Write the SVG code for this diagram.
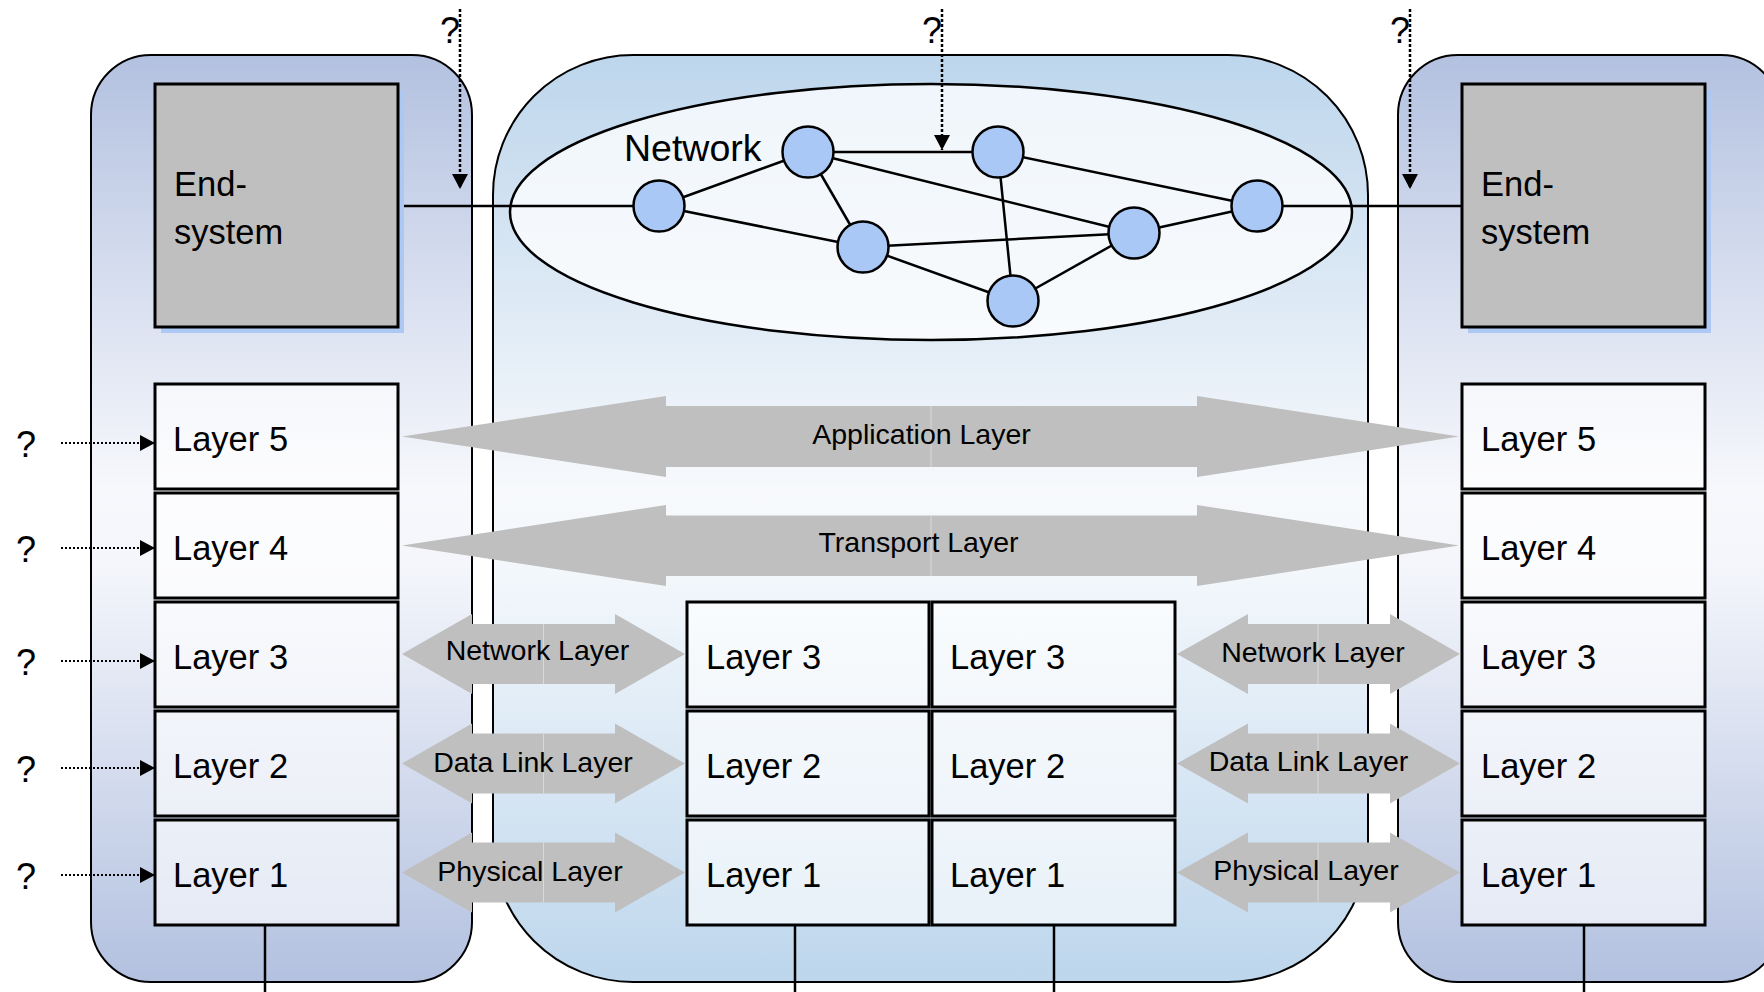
<svg xmlns="http://www.w3.org/2000/svg" width="1764" height="992" viewBox="0 0 1764 992">
<defs>
  <linearGradient id="gSide" x1="0" y1="0" x2="0" y2="1">
    <stop offset="0" stop-color="#b3c1e0"/>
    <stop offset="0.47" stop-color="#f7f8fc"/>
    <stop offset="0.55" stop-color="#f4f6fb"/>
    <stop offset="1" stop-color="#b3c1e0"/>
  </linearGradient>
  <linearGradient id="gCenter" x1="0" y1="0" x2="0" y2="1">
    <stop offset="0" stop-color="#bdd6ec"/>
    <stop offset="0.47" stop-color="#f7f9fc"/>
    <stop offset="0.55" stop-color="#f4f8fc"/>
    <stop offset="1" stop-color="#bdd6ec"/>
  </linearGradient>
  <marker id="ah" markerUnits="userSpaceOnUse" markerWidth="17" markerHeight="17" refX="15" refY="8" orient="auto">
    <path d="M0,0 L15,8 L0,16 Z" fill="#000"/>
  </marker>
</defs>
<style>
  .panel { stroke:#000; stroke-width:2; }
  .es { fill:#bfbfbf; stroke:#000; stroke-width:3; }
  .shadow { fill:#adc9f3; }
  .box { fill:#ffffff; fill-opacity:0.62; stroke:#000; stroke-width:3; }
  .t { font-family:'Liberation Sans', Arial, sans-serif; fill:#000; }
  .lt { font-size:34.5px; }
  .at { font-size:28.5px; text-anchor:middle; }
  .q { font-size:36px; }
  .garrow { fill:#bfbfbf; }
  .seam { stroke:#d9d9d9; stroke-width:1; }
  .edge { stroke:#000; stroke-width:2.5; fill:none; }
  .node { fill:#a9c8f5; stroke:#000; stroke-width:2.5; }
  .dot { stroke:#000; stroke-width:2; stroke-dasharray:2 2; fill:none; }
  .vdot { stroke:#000; stroke-width:2.5; stroke-dasharray:3 2; fill:none; }
  .wire { stroke:#000; stroke-width:2.5; fill:none; }
</style>

<!-- Panels -->
<g id="panel-left"><rect class="panel" x="91" y="55" width="381" height="927" rx="60" fill="url(#gSide)"/></g>
<g id="panel-center"><rect class="panel" x="493" y="55" width="875" height="927" rx="140" fill="url(#gCenter)"/></g>
<g id="panel-right"><rect class="panel" x="1398" y="55" width="383" height="927" rx="60" fill="url(#gSide)"/></g>

<!-- Network ellipse -->
<g id="network-cloud">
  <ellipse cx="931" cy="212" rx="421" ry="128" fill="#ffffff" fill-opacity="0.75" stroke="#000" stroke-width="2.5"/>
  <text class="t" x="624" y="161" font-size="37.5">Network</text>
</g>

<!-- Connectors -->
<g id="connectors">
  <line class="wire" x1="398" y1="206" x2="659" y2="206"/>
  <line class="wire" x1="1257" y1="206" x2="1462" y2="206"/>
  <line class="edge" x1="659" y1="206" x2="808" y2="152"/>
  <line class="edge" x1="659" y1="206" x2="863" y2="247"/>
  <line class="edge" x1="808" y1="152" x2="998" y2="152"/>
  <line class="edge" x1="808" y1="152" x2="863" y2="247"/>
  <line class="edge" x1="808" y1="152" x2="1134" y2="233"/>
  <line class="edge" x1="998" y1="152" x2="1257" y2="206"/>
  <line class="edge" x1="998" y1="152" x2="1013" y2="301"/>
  <line class="edge" x1="863" y1="247" x2="1134" y2="233"/>
  <line class="edge" x1="863" y1="247" x2="1013" y2="301"/>
  <line class="edge" x1="1013" y1="301" x2="1134" y2="233"/>
  <line class="edge" x1="1134" y1="233" x2="1257" y2="206"/>
  <!-- top dotted arrows -->
  <line class="vdot" x1="460" y1="9" x2="460" y2="189" marker-end="url(#ah)"/>
  <line class="vdot" x1="942" y1="9" x2="942" y2="150" marker-end="url(#ah)"/>
  <line class="vdot" x1="1410" y1="9" x2="1410" y2="189" marker-end="url(#ah)"/>
  <!-- left dotted arrows -->
  <line class="dot" x1="61" y1="443" x2="155" y2="443" marker-end="url(#ah)"/>
  <line class="dot" x1="61" y1="548" x2="155" y2="548" marker-end="url(#ah)"/>
  <line class="dot" x1="61" y1="661" x2="155" y2="661" marker-end="url(#ah)"/>
  <line class="dot" x1="61" y1="768" x2="155" y2="768" marker-end="url(#ah)"/>
  <line class="dot" x1="61" y1="875" x2="155" y2="875" marker-end="url(#ah)"/>
  <!-- bottom wires -->
  <line class="wire" x1="265" y1="925" x2="265" y2="992"/>
  <line class="wire" x1="795" y1="925" x2="795" y2="992"/>
  <line class="wire" x1="1054" y1="925" x2="1054" y2="992"/>
  <line class="wire" x1="1584" y1="925" x2="1584" y2="992"/>
</g>

<!-- Network nodes -->
<g id="node-n1"><circle class="node" cx="659" cy="206" r="25.5"/></g>
<g id="node-n2"><circle class="node" cx="808" cy="152" r="25.5"/></g>
<g id="node-n3"><circle class="node" cx="998" cy="152" r="25.5"/></g>
<g id="node-n4"><circle class="node" cx="863" cy="247" r="25.5"/></g>
<g id="node-n5"><circle class="node" cx="1134" cy="233" r="25.5"/></g>
<g id="node-n6"><circle class="node" cx="1257" cy="206" r="25.5"/></g>
<g id="node-n7"><circle class="node" cx="1013" cy="301" r="25.5"/></g>

<!-- Question marks -->
<g id="questions">
  <text class="t q" x="440" y="43">?</text>
  <text class="t q" x="922" y="43">?</text>
  <text class="t q" x="1390" y="43">?</text>
  <text class="t q" x="16" y="457">?</text>
  <text class="t q" x="16" y="562">?</text>
  <text class="t q" x="16" y="675">?</text>
  <text class="t q" x="16" y="782">?</text>
  <text class="t q" x="16" y="889">?</text>
</g>

<!-- End systems -->
<g id="endsystem-left">
  <rect class="shadow" x="161" y="90" width="243" height="243"/>
  <rect class="es" x="155" y="84" width="243" height="243"/>
  <text class="t lt" x="174" y="196">End-</text>
  <text class="t lt" x="174" y="244">system</text>
</g>
<g id="endsystem-right">
  <rect class="shadow" x="1468" y="90" width="243" height="243"/>
  <rect class="es" x="1462" y="84" width="243" height="243"/>
  <text class="t lt" x="1481" y="196">End-</text>
  <text class="t lt" x="1481" y="244">system</text>
</g>

<!-- Left stack -->
<g id="left-layer5"><rect class="box" x="155" y="384" width="243" height="105"/><text class="t lt" x="173" y="451">Layer 5</text></g>
<g id="left-layer4"><rect class="box" x="155" y="493" width="243" height="105"/><text class="t lt" x="173" y="560">Layer 4</text></g>
<g id="left-layer3"><rect class="box" x="155" y="602" width="243" height="105"/><text class="t lt" x="173" y="669">Layer 3</text></g>
<g id="left-layer2"><rect class="box" x="155" y="711" width="243" height="105"/><text class="t lt" x="173" y="778">Layer 2</text></g>
<g id="left-layer1"><rect class="box" x="155" y="820" width="243" height="105"/><text class="t lt" x="173" y="887">Layer 1</text></g>

<!-- Center stacks -->
<g id="mid-a-layer3"><rect class="box" x="687" y="602" width="242" height="105"/><text class="t lt" x="706" y="669">Layer 3</text></g>
<g id="mid-a-layer2"><rect class="box" x="687" y="711" width="242" height="105"/><text class="t lt" x="706" y="778">Layer 2</text></g>
<g id="mid-a-layer1"><rect class="box" x="687" y="820" width="242" height="105"/><text class="t lt" x="706" y="887">Layer 1</text></g>
<g id="mid-b-layer3"><rect class="box" x="932" y="602" width="243" height="105"/><text class="t lt" x="950" y="669">Layer 3</text></g>
<g id="mid-b-layer2"><rect class="box" x="932" y="711" width="243" height="105"/><text class="t lt" x="950" y="778">Layer 2</text></g>
<g id="mid-b-layer1"><rect class="box" x="932" y="820" width="243" height="105"/><text class="t lt" x="950" y="887">Layer 1</text></g>

<!-- Right stack -->
<g id="right-layer5"><rect class="box" x="1462" y="384" width="243" height="105"/><text class="t lt" x="1481" y="451">Layer 5</text></g>
<g id="right-layer4"><rect class="box" x="1462" y="493" width="243" height="105"/><text class="t lt" x="1481" y="560">Layer 4</text></g>
<g id="right-layer3"><rect class="box" x="1462" y="602" width="243" height="105"/><text class="t lt" x="1481" y="669">Layer 3</text></g>
<g id="right-layer2"><rect class="box" x="1462" y="711" width="243" height="105"/><text class="t lt" x="1481" y="778">Layer 2</text></g>
<g id="right-layer1"><rect class="box" x="1462" y="820" width="243" height="105"/><text class="t lt" x="1481" y="887">Layer 1</text></g>

<!-- Protocol arrows -->
<g id="arrow-application">
  <polygon class="garrow" points="402,436.5 666,396 666,406 1197,406 1197,396 1459,436.5 1197,477 1197,467 666,467 666,477"/>
  <line class="seam" x1="931" y1="406" x2="931" y2="467"/>
  <text class="t at" x="921.5" y="444">Application Layer</text>
</g>
<g id="arrow-transport">
  <polygon class="garrow" points="402,545.5 666,505 666,515.5 1197,515.5 1197,505 1459,545.5 1197,586 1197,576 666,576 666,586"/>
  <line class="seam" x1="931" y1="515.5" x2="931" y2="576"/>
  <text class="t at" x="918.5" y="552">Transport Layer</text>
</g>
<g id="arrow-network-left">
  <polygon class="garrow" points="402,654 472,614 472,624 615,624 615,614 685,654 615,694 615,684 472,684 472,694"/>
  <line class="seam" x1="543.5" y1="624" x2="543.5" y2="684"/>
  <text class="t at" x="537.5" y="660">Network Layer</text>
</g>
<g id="arrow-datalink-left">
  <polygon class="garrow" points="402,763.5 472,723.5 472,733.5 615,733.5 615,723.5 685,763.5 615,803.5 615,793.5 472,793.5 472,803.5"/>
  <line class="seam" x1="543.5" y1="733.5" x2="543.5" y2="793.5"/>
  <text class="t at" x="533" y="771.5">Data Link Layer</text>
</g>
<g id="arrow-physical-left">
  <polygon class="garrow" points="402,872.5 472,832.5 472,842.5 615,842.5 615,832.5 685,872.5 615,912.5 615,902.5 472,902.5 472,912.5"/>
  <line class="seam" x1="543.5" y1="842.5" x2="543.5" y2="902.5"/>
  <text class="t at" x="530" y="881">Physical Layer</text>
</g>
<g id="arrow-network-right">
  <polygon class="garrow" points="1177,654 1248,614 1248,624 1390,624 1390,614 1460,654 1390,694 1390,684 1248,684 1248,694"/>
  <line class="seam" x1="1318" y1="624" x2="1318" y2="684"/>
  <text class="t at" x="1313" y="662">Network Layer</text>
</g>
<g id="arrow-datalink-right">
  <polygon class="garrow" points="1177,763.5 1248,723.5 1248,733.5 1390,733.5 1390,723.5 1460,763.5 1390,803.5 1390,793.5 1248,793.5 1248,803.5"/>
  <line class="seam" x1="1318" y1="733.5" x2="1318" y2="793.5"/>
  <text class="t at" x="1308.5" y="770.5">Data Link Layer</text>
</g>
<g id="arrow-physical-right">
  <polygon class="garrow" points="1177,872.5 1248,832.5 1248,842.5 1390,842.5 1390,832.5 1460,872.5 1390,912.5 1390,902.5 1248,902.5 1248,912.5"/>
  <line class="seam" x1="1318" y1="842.5" x2="1318" y2="902.5"/>
  <text class="t at" x="1306" y="880">Physical Layer</text>
</g>
</svg>
